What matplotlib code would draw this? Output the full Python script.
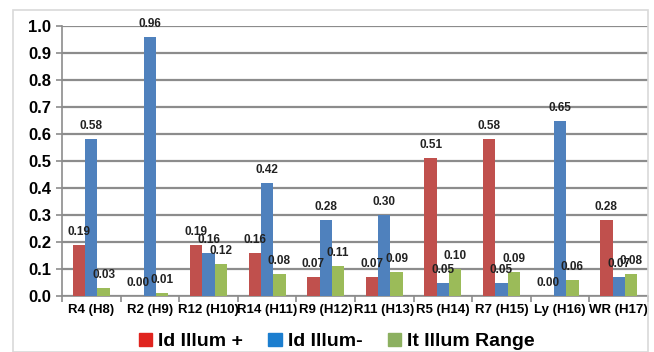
import numpy as np
import matplotlib.pyplot as plt
from matplotlib.patches import Patch, Rectangle

plt.rcParams['font.family'] = ['Liberation Sans', 'DejaVu Sans']

categories = ["R4 (H8)", "R2 (H9)", "R12 (H10)", "R14 (H11)", "R9 (H12)",
              "R11 (H13)", "R5 (H14)", "R7 (H15)", "Ly (H16)", "WR (H17)"]
illum_plus = [0.19, 0.00, 0.19, 0.16, 0.07, 0.07, 0.51, 0.58, 0.00, 0.28]
illum_minus = [0.58, 0.96, 0.16, 0.42, 0.28, 0.30, 0.05, 0.05, 0.65, 0.07]
illum_range = [0.03, 0.01, 0.12, 0.08, 0.11, 0.09, 0.10, 0.09, 0.06, 0.08]
series_names = ["Id Illum +", "Id Illum-", "It Illum Range"]

bar_colors = ["#C0504D", "#4F81BD", "#9BBB59"]
legend_colors = ["#E0241E", "#1C7ECF", "#8CB060"]

fig = plt.figure(figsize=(6.54, 3.52), dpi=100)
fig.patches.append(Rectangle((13/654, 0), 635/654, 342/352, transform=fig.transFigure,
                             fill=False, edgecolor="#d9d9d9", linewidth=1.2))
ax = fig.add_axes([62/654, 56/352, 586/654, 270/352])

x = np.arange(len(categories))
w = 0.21
for i, vals in enumerate([illum_plus, illum_minus, illum_range]):
    pos = x + (i - 1) * w
    ax.bar(pos, vals, width=w, color=bar_colors[i], zorder=3)
    for px, v in zip(pos, vals):
        ax.annotate(f"{v:.2f}", (px, v), xytext=(0, 5), textcoords="offset points",
                    ha="center", va="bottom", fontsize=8.5, fontweight="bold",
                    color="#222222", zorder=4)

ax.set_xlim(-0.5, len(categories) - 0.5)
ax.set_ylim(0, 1.0)
ax.set_yticks(np.arange(0, 1.01, 0.1))
ax.set_yticklabels([f"{t:.1f}" for t in np.arange(0, 1.01, 0.1)],
                   fontsize=12, fontweight="bold")
ax.yaxis.grid(True, color="#8c8c8c", linewidth=1.6, zorder=0)
ax.set_axisbelow(True)

ax.set_xticks(x)
ax.set_xticklabels(categories, fontsize=9.5, fontweight="bold")
ax.tick_params(axis="x", length=0, pad=6)
ax.set_xticks(np.arange(-0.5, len(categories)), minor=True)
ax.tick_params(axis="x", which="minor", length=4, color="#8c8c8c", width=1.2)
ax.tick_params(axis="y", length=4, color="#8c8c8c", width=1.2, pad=4)

for s in ["top", "right"]:
    ax.spines[s].set_visible(False)
for s in ["left", "bottom"]:
    ax.spines[s].set_color("#8c8c8c")
    ax.spines[s].set_linewidth(1.2)

handles = [Patch(color=c, label=n) for c, n in zip(legend_colors, series_names)]
fig.legend(handles=handles, loc="lower center", bbox_to_anchor=(0.515, -0.045), ncol=3,
           frameon=False, prop={"size": 14, "weight": "bold"},
           handlelength=0.7, handleheight=0.7, handletextpad=0.3, columnspacing=1.3)

fig.savefig("out.png", dpi=100)
